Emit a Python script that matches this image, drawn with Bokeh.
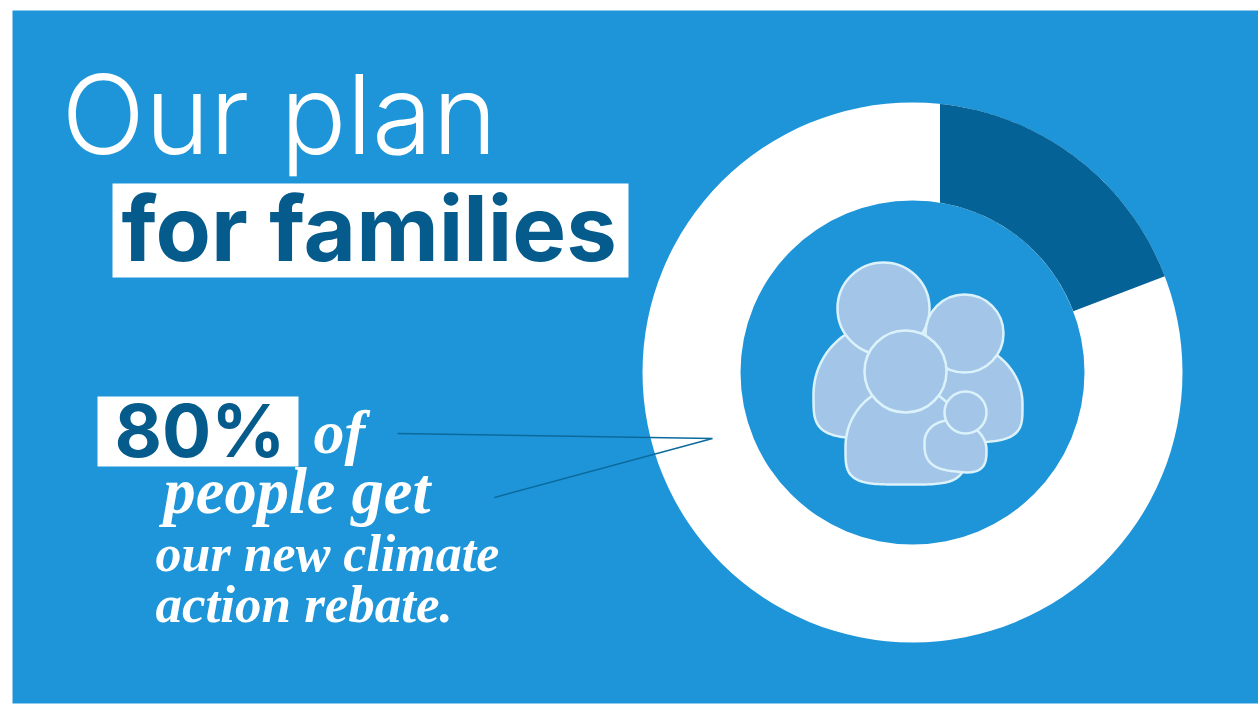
import numpy as np
from bokeh.plotting import figure
from bokeh.models import Range1d
from bokeh.core.properties import value
from bokeh.embed import file_html
from bokeh.resources import INLINE

# --- data ---
dark_end_share = 19.2                   # percent of the ring, clockwise from 12 o'clock
dark_start_dx = 27.5                    # the dark band starts on a vertical cut right of centre
ring_color = "#ffffff"
dark_color = "#046296"
title_light = "Our plan"
title_bold = "for families"
pct_label = "80%"
serif_texts = ["of", "people get", "our new climate", "action rebate."]

# --- page geometry (window pixels) ---
W, H = 1258, 705
BG = "#1e95d8"
DARK = "#055c8c"
def Y(py):
    return H - np.asarray(py, dtype=float)

p = figure(width=W, height=H, output_backend="svg", toolbar_location=None,
           x_range=Range1d(0, W), y_range=Range1d(0, H),
           min_border=0, outline_line_color=None, background_fill_color="#ffffff",
           border_fill_color="#ffffff")
p.axis.visible = False
p.grid.visible = False

# background
p.quad(left=[12], right=[1258], top=[Y(10)], bottom=[Y(703)], fill_color=BG, line_color=None)

# donut
cx, cy, r_out, r_in = 912, 372, 270, 172
p.annular_wedge(x=[cx], y=[Y(cy)], inner_radius=r_in, outer_radius=r_out,
                start_angle=0, end_angle=2 * np.pi, fill_color=ring_color, line_color=None)
end_a = dark_end_share / 100 * 2 * np.pi
a_out = np.linspace(np.arcsin(dark_start_dx / r_out), end_a, 80)
a_in = np.linspace(end_a, np.arcsin(dark_start_dx / r_in), 80)
wx = np.concatenate([cx + r_out * np.sin(a_out), cx + r_in * np.sin(a_in)])
wy = np.concatenate([cy - r_out * np.cos(a_out), cy - r_in * np.cos(a_in)])
p.patch(wx, Y(wy), fill_color=dark_color, line_color=None)

# family icon
FILL, EDGE = "#a3c6e8", "#dcf2fb"
def body(x0, x1, top, bot, tilt=0.0, split=0.62, n=4):
    a = (x1 - x0) / 2
    xc = (x0 + x1) / 2
    ym = top + (bot - top) * split
    t = np.linspace(0, 2 * np.pi, 160)
    c, s = np.cos(t), np.sin(t)
    ex = 2 / n
    xs = xc + a * np.where(s >= 0, c, np.sign(c) * np.abs(c) ** ex)
    ys = np.where(s >= 0, ym - (ym - top) * s, ym + (bot - ym) * np.abs(s) ** ex)
    ys = ys + (xs - xc) * tilt
    return xs, Y(ys)
def shape(xs, ys):
    p.patch(xs, ys, fill_color=FILL, line_color=EDGE, line_width=2.5)
def head(x, y, r):
    p.circle(x=[x], y=[Y(y)], radius=r, fill_color=FILL, line_color=EDGE, line_width=2.5)

shape(*body(813, 957, 322, 438))
shape(*body(880, 1022, 340, 442))
head(883, 308, 46)
head(964, 333, 39)
shape(*body(845, 965, 385, 484))
head(905, 371, 41)
shape(*body(924, 986, 420, 471, tilt=0.12, split=0.5, n=3))
head(965, 412, 21)

# leader lines
p.line([397, 712, 494], Y([433, 438, 497]), line_color="#0b6a9c", line_width=1.5)

# text helper: compensates for the renderer's baseline shift
SHIFT = 0.38
def label(x, y, t, font, size, color, style="normal"):
    p.text(x=[x], y=[Y(y)], text=[t], text_font=value(font), text_font_style=style,
           text_font_size=f"{size}px", text_color=color, text_baseline="alphabetic",
           y_offset=-SHIFT * size)

label(61, 155, title_light, "Inter Light", 110, "#ffffff")
p.quad(left=[112], right=[628], top=[Y(183)], bottom=[Y(277)], fill_color="#ffffff", line_color=None)
label(121, 262, title_bold, "Inter", 90.5, DARK, "bold")

p.quad(left=[97], right=[298], top=[Y(396)], bottom=[Y(466)], fill_color="#ffffff", line_color=None)
label(114, 458, pct_label, "Inter", 73, DARK, "bold")

xs_s = [313, 163, 155, 155]
ys_s = [455, 516, 573, 624]
sz_s = [62, 64.5, 52, 53]
for x, y, t, sz in zip(xs_s, ys_s, serif_texts, sz_s):
    label(x, y, t, "Liberation Serif", sz, "#ffffff", "bold italic")

open("out.html", "w").write(file_html(p, INLINE))
